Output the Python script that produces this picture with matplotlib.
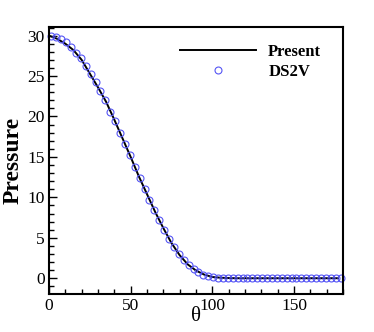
import matplotlib
matplotlib.use("Agg")
import matplotlib.pyplot as plt
from matplotlib.ticker import MultipleLocator

# DS2V samples (theta in degrees, pressure)
theta_ds2v = [1.5, 4.5, 7.5, 10.5, 13.5, 16.5, 19.5, 22.5, 25.5, 28.5,
              31.5, 34.5, 37.5, 40.5, 43.5, 46.5, 49.5, 52.5, 55.5, 58.5,
              61.5, 64.5, 67.5, 70.5, 73.5, 76.5, 79.5, 82.5, 85.5, 88.5,
              91.5, 94.5, 97.5, 100.5, 103.5, 106.5, 109.5, 112.5, 115.5, 118.5,
              121.5, 124.5, 127.5, 130.5, 133.5, 136.5, 139.5, 142.5, 145.5, 148.5,
              151.5, 154.5, 157.5, 160.5, 163.5, 166.5, 169.5, 172.5, 175.5, 178.5]
p_ds2v = [30.0, 29.8, 29.6, 29.2, 28.6, 27.9, 27.2, 26.2, 25.2, 24.2,
          23.2, 22.0, 20.6, 19.4, 18.0, 16.6, 15.2, 13.8, 12.35, 11.05,
          9.7, 8.4, 7.2, 6.0, 4.9, 3.85, 2.95, 2.25, 1.6, 1.1,
          0.72, 0.42, 0.22, 0.1, 0.04, 0.02, 0.01, 0.0, 0.0, 0.0,
          0.0, 0.0, 0.0, 0.0, 0.0, 0.0, 0.0, 0.0, 0.0, 0.0,
          0.0, 0.0, 0.0, 0.0, 0.0, 0.0, 0.0, 0.0, 0.0, 0.0]

# present solution
theta_present = [0, 5, 10, 15, 20, 25, 30, 35, 40, 45, 50, 55, 60, 65, 70,
                 75, 80, 85, 90, 95, 100, 105, 110, 115, 120, 130, 140, 150,
                 160, 170, 177]
p_present = [30.0, 29.6, 29.0, 28.2, 27.0, 25.3, 23.6, 21.8, 19.6, 17.3, 15.0,
             12.6, 10.4, 8.2, 6.2, 4.35, 2.85, 1.7, 0.95, 0.45, 0.15, 0.06,
             0.02, 0.0, 0.0, 0.0, 0.0, 0.0, 0.0, 0.0, 0.0]

plt.rcParams['font.family'] = ['Liberation Serif', 'DejaVu Serif']

fig = plt.figure(figsize=(3.74, 3.32), dpi=100)
ax = fig.add_axes([0.131, 0.1145, 0.786, 0.8051])

ax.plot(theta_present, p_present, color='black', lw=1.4, label='Present')
ax.plot(theta_ds2v, p_ds2v, ls='none', marker='o', ms=5, mfc='none',
        mec='#5555f5', mew=0.8, label='DS2V', clip_on=False)

ax.set_xlim(0, 180)
ax.set_ylim(-1.95, 31.1)
ax.xaxis.set_major_locator(MultipleLocator(50))
ax.xaxis.set_minor_locator(MultipleLocator(10))
ax.yaxis.set_major_locator(MultipleLocator(5))
ax.yaxis.set_minor_locator(MultipleLocator(1))
ax.tick_params(which='both', direction='in', top=False, right=False,
               labelsize=12.5, width=1.0)
ax.tick_params(which='major', length=6, pad=3)
ax.tick_params(which='minor', length=3.5)

for s in ax.spines.values():
    s.set_linewidth(1.5)

ax.set_xlabel(u'\u03b8', fontsize=15, labelpad=-5)
ax.set_ylabel('Pressure', fontsize=17, fontweight='bold', labelpad=3)

ax.legend(loc='upper left', bbox_to_anchor=(0.445, 0.935), frameon=False,
          borderpad=0, borderaxespad=0, handlelength=4.6, handletextpad=0.7,
          labelspacing=0.25, numpoints=1,
          prop={'size': 12, 'weight': 'bold'})

fig.savefig('out.png', dpi=100)
